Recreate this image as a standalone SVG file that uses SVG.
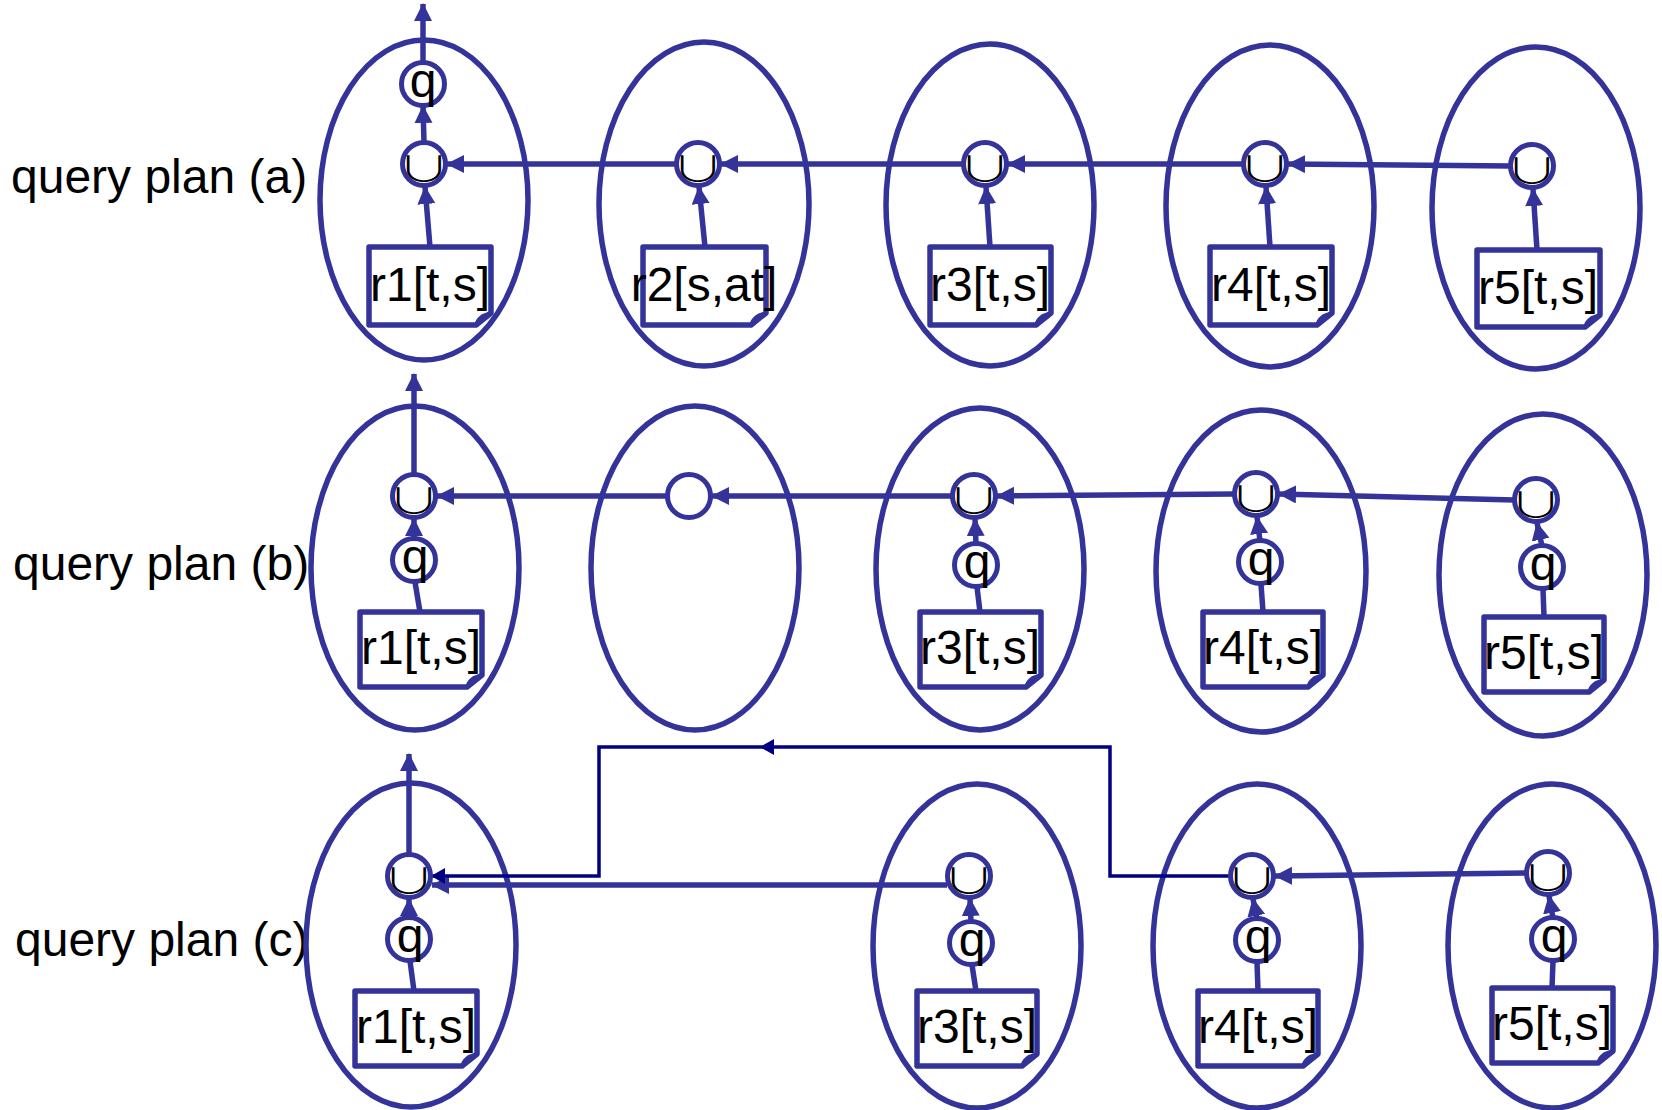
<svg xmlns="http://www.w3.org/2000/svg" width="1662" height="1110" viewBox="0 0 1662 1110">
  <defs>
    <style>
      .ell { fill: none; stroke: #333399; stroke-width: 5.5; }
      .op { fill: #fff; stroke: #333399; stroke-width: 5; }
      .doc { fill: #fff; stroke: #333399; stroke-width: 5.5; stroke-linejoin: round; }
      .curl { fill: none; stroke: #333399; stroke-width: 3; }
      .edge { fill: none; stroke: #333399; stroke-width: 5.5; }
      .plain { fill: none; stroke: #333399; stroke-width: 5.5; }
      .thin { fill: none; stroke: #000080; stroke-width: 3.5; }
      .lbl { font-family: "Liberation Sans", Arial, sans-serif; font-size: 48px; fill: #000; }
      .rel { font-family: "Liberation Sans", Arial, sans-serif; font-size: 48px; fill: #000; text-anchor: middle; }
      .q { font-family: "Liberation Sans", Arial, sans-serif; font-size: 48px; fill: #000; text-anchor: middle; }
      .u { font-family: "Noto Sans CJK JP", "DejaVu Sans", sans-serif; font-size: 44px; font-weight: 300; fill: #000; text-anchor: middle; }
    </style>
    <marker id="arr" markerUnits="userSpaceOnUse" markerWidth="20" markerHeight="20" refX="17" refY="9" orient="auto">
      <path d="M0,0 L18,9 L0,18 Z" fill="#333399"/>
    </marker>
    <marker id="arrThin" markerUnits="userSpaceOnUse" markerWidth="16" markerHeight="18" refX="13" refY="8" orient="auto">
      <path d="M0,0 L14,8 L0,16 Z" fill="#000080"/>
    </marker>
  </defs>
  <rect width="1662" height="1110" fill="#fff"/>

  <!-- row labels -->
  <text class="lbl" x="11" y="193">query plan (a)</text>
  <text class="lbl" x="13" y="580">query plan (b)</text>
  <text class="lbl" x="15" y="956">query plan (c)</text>

  <!-- site ellipses -->
  <g id="sites">
    <ellipse class="ell" cx="424" cy="200" rx="104" ry="160"/>
    <ellipse class="ell" cx="704" cy="204" rx="105" ry="162"/>
    <ellipse class="ell" cx="990" cy="205" rx="104" ry="161"/>
    <ellipse class="ell" cx="1270" cy="206" rx="104" ry="161"/>
    <ellipse class="ell" cx="1536" cy="208" rx="104" ry="161"/>

    <ellipse class="ell" cx="415" cy="568" rx="104" ry="162"/>
    <ellipse class="ell" cx="695" cy="568" rx="104" ry="162"/>
    <ellipse class="ell" cx="980" cy="569" rx="104" ry="161"/>
    <ellipse class="ell" cx="1261" cy="571" rx="105" ry="161"/>
    <ellipse class="ell" cx="1543" cy="575" rx="104" ry="161"/>

    <ellipse class="ell" cx="411" cy="945" rx="105" ry="162"/>
    <ellipse class="ell" cx="977" cy="946" rx="104" ry="162"/>
    <ellipse class="ell" cx="1257" cy="946" rx="104" ry="162"/>
    <ellipse class="ell" cx="1552" cy="946" rx="104" ry="162"/>
  </g>

  <!-- connectors -->
  <g id="connectors">
    <!-- plan (a) -->
    <line class="edge" x1="423" y1="62" x2="423" y2="4" marker-end="url(#arr)"/>
    <line class="edge" x1="424" y1="142" x2="423" y2="106" marker-end="url(#arr)"/>
    <line class="edge" x1="430" y1="247" x2="425" y2="187" marker-end="url(#arr)"/>
    <line class="edge" x1="705" y1="247" x2="699" y2="187" marker-end="url(#arr)"/>
    <line class="edge" x1="990" y1="247" x2="986" y2="187" marker-end="url(#arr)"/>
    <line class="edge" x1="1270" y1="247" x2="1266" y2="187" marker-end="url(#arr)"/>
    <line class="edge" x1="1537" y1="250" x2="1533" y2="189" marker-end="url(#arr)"/>
    <line class="edge" x1="1511" y1="166" x2="1288" y2="164" marker-end="url(#arr)"/>
    <line class="edge" x1="1243" y1="164" x2="1008" y2="164" marker-end="url(#arr)"/>
    <line class="edge" x1="963" y1="164" x2="721" y2="164" marker-end="url(#arr)"/>
    <line class="edge" x1="676" y1="164" x2="447" y2="164" marker-end="url(#arr)"/>

    <!-- plan (b) -->
    <line class="edge" x1="414" y1="474" x2="414" y2="374" marker-end="url(#arr)"/>
    <line class="edge" x1="414" y1="539" x2="414" y2="519" marker-end="url(#arr)"/>
    <line class="edge" x1="976" y1="544" x2="975" y2="519" marker-end="url(#arr)"/>
    <line class="edge" x1="1260" y1="541" x2="1257" y2="517" marker-end="url(#arr)"/>
    <line class="edge" x1="1542" y1="546" x2="1537" y2="523" marker-end="url(#arr)"/>
    <line class="plain" x1="420" y1="612" x2="415" y2="582"/>
    <line class="plain" x1="980" y1="612" x2="977" y2="587"/>
    <line class="plain" x1="1263" y1="612" x2="1261" y2="584"/>
    <line class="plain" x1="1544" y1="617" x2="1543" y2="589"/>
    <line class="edge" x1="1514" y1="500" x2="1279" y2="494" marker-end="url(#arr)"/>
    <line class="edge" x1="1234" y1="494" x2="997" y2="496" marker-end="url(#arr)"/>
    <line class="edge" x1="952" y1="496" x2="712" y2="496" marker-end="url(#arr)"/>
    <line class="edge" x1="667" y1="496" x2="437" y2="496" marker-end="url(#arr)"/>

    <!-- plan (c) -->
    <line class="edge" x1="409" y1="854" x2="409" y2="754" marker-end="url(#arr)"/>
    <line class="edge" x1="409" y1="918" x2="409" y2="899" marker-end="url(#arr)"/>
    <line class="edge" x1="971" y1="922" x2="970" y2="899" marker-end="url(#arr)"/>
    <line class="edge" x1="1257" y1="919" x2="1253" y2="899" marker-end="url(#arr)"/>
    <line class="edge" x1="1553" y1="918" x2="1549" y2="896" marker-end="url(#arr)"/>
    <line class="plain" x1="414" y1="991" x2="410" y2="961"/>
    <line class="plain" x1="976" y1="991" x2="972" y2="965"/>
    <line class="plain" x1="1258" y1="991" x2="1257" y2="962"/>
    <line class="plain" x1="1552" y1="988" x2="1553" y2="961"/>
    <line class="edge" x1="1527" y1="873" x2="1275" y2="876" marker-end="url(#arr)"/>
    <line class="edge" x1="947" y1="885" x2="432" y2="885" marker-end="url(#arr)"/>
    <path class="thin" d="M1231,876 H1110 V747 H761" marker-end="url(#arrThin)"/>
    <path class="thin" d="M761,747 H599 V876 H432" marker-end="url(#arrThin)"/>
  </g>

  <!-- plan (a) nodes -->
  <g id="a-site1">
    <circle class="op" cx="423" cy="84" r="21.5"/>
    <text class="q" x="423" y="97">q</text>
    <circle class="op" cx="424" cy="164" r="21.5"/>
    <text class="u" transform="translate(424,182) scale(1.2,0.8)">∪</text>
    <path class="doc" d="M369,247 H491 V313 L476,325 H369 Z"/>
    <path class="curl" d="M476,325 Q478,315 491,313"/>
    <text class="rel" x="430" y="301">r1[t,s]</text>
  </g>
  <g id="a-site2">
    <circle class="op" cx="698" cy="164" r="21.5"/>
    <text class="u" transform="translate(698,182) scale(1.2,0.8)">∪</text>
    <path class="doc" d="M643,247 H766 V313 L751,325 H643 Z"/>
    <path class="curl" d="M751,325 Q753,315 766,313"/>
    <text class="rel" x="704" y="301">r2[s,at]</text>
  </g>
  <g id="a-site3">
    <circle class="op" cx="985" cy="164" r="21.5"/>
    <text class="u" transform="translate(985,182) scale(1.2,0.8)">∪</text>
    <path class="doc" d="M930,247 H1051 V313 L1036,325 H930 Z"/>
    <path class="curl" d="M1036,325 Q1038,315 1051,313"/>
    <text class="rel" x="990" y="301">r3[t,s]</text>
  </g>
  <g id="a-site4">
    <circle class="op" cx="1265" cy="164" r="21.5"/>
    <text class="u" transform="translate(1265,182) scale(1.2,0.8)">∪</text>
    <path class="doc" d="M1210,247 H1332 V313 L1317,325 H1210 Z"/>
    <path class="curl" d="M1317,325 Q1319,315 1332,313"/>
    <text class="rel" x="1271" y="301">r4[t,s]</text>
  </g>
  <g id="a-site5">
    <circle class="op" cx="1532" cy="166" r="21.5"/>
    <text class="u" transform="translate(1532,184) scale(1.2,0.8)">∪</text>
    <path class="doc" d="M1477,250 H1600 V315 L1585,327 H1477 Z"/>
    <path class="curl" d="M1585,327 Q1587,317 1600,315"/>
    <text class="rel" x="1538" y="304">r5[t,s]</text>
  </g>

  <!-- plan (b) nodes -->
  <g id="b-site1">
    <circle class="op" cx="414" cy="496" r="21.5"/>
    <text class="u" transform="translate(414,514) scale(1.2,0.8)">∪</text>
    <circle class="op" cx="414" cy="560" r="21.5"/>
    <text class="q" x="415" y="573">q</text>
    <path class="doc" d="M360,612 H482 V675 L467,687 H360 Z"/>
    <path class="curl" d="M467,687 Q469,677 482,675"/>
    <text class="rel" x="421" y="664">r1[t,s]</text>
  </g>
  <g id="b-site2">
    <circle class="op" cx="689" cy="496" r="21.5"/>
  </g>
  <g id="b-site3">
    <circle class="op" cx="974" cy="496" r="21.5"/>
    <text class="u" transform="translate(974,514) scale(1.2,0.8)">∪</text>
    <circle class="op" cx="976" cy="565" r="21.5"/>
    <text class="q" x="977" y="578">q</text>
    <path class="doc" d="M920,612 H1041 V675 L1026,687 H920 Z"/>
    <path class="curl" d="M1026,687 Q1028,677 1041,675"/>
    <text class="rel" x="980" y="664">r3[t,s]</text>
  </g>
  <g id="b-site4">
    <circle class="op" cx="1256" cy="494" r="21.5"/>
    <text class="u" transform="translate(1256,512) scale(1.2,0.8)">∪</text>
    <circle class="op" cx="1260" cy="562" r="21.5"/>
    <text class="q" x="1261" y="575">q</text>
    <path class="doc" d="M1203,612 H1323 V675 L1308,687 H1203 Z"/>
    <path class="curl" d="M1308,687 Q1310,677 1323,675"/>
    <text class="rel" x="1263" y="664">r4[t,s]</text>
  </g>
  <g id="b-site5">
    <circle class="op" cx="1536" cy="500" r="21.5"/>
    <text class="u" transform="translate(1536,518) scale(1.2,0.8)">∪</text>
    <circle class="op" cx="1542" cy="567" r="21.5"/>
    <text class="q" x="1543" y="580">q</text>
    <path class="doc" d="M1484,617 H1604 V680 L1589,692 H1484 Z"/>
    <path class="curl" d="M1589,692 Q1591,682 1604,680"/>
    <text class="rel" x="1544" y="669">r5[t,s]</text>
  </g>

  <!-- plan (c) nodes -->
  <g id="c-site1">
    <circle class="op" cx="409" cy="876" r="21.5"/>
    <text class="u" transform="translate(409,894) scale(1.2,0.8)">∪</text>
    <circle class="op" cx="409" cy="939" r="21.5"/>
    <text class="q" x="410" y="952">q</text>
    <path class="doc" d="M355,991 H477 V1054 L462,1066 H355 Z"/>
    <path class="curl" d="M462,1066 Q464,1056 477,1054"/>
    <text class="rel" x="416" y="1043">r1[t,s]</text>
  </g>
  <g id="c-site3">
    <circle class="op" cx="969" cy="876" r="21.5"/>
    <text class="u" transform="translate(969,894) scale(1.2,0.8)">∪</text>
    <circle class="op" cx="971" cy="943" r="21.5"/>
    <text class="q" x="972" y="956">q</text>
    <path class="doc" d="M917,991 H1037 V1054 L1022,1066 H917 Z"/>
    <path class="curl" d="M1022,1066 Q1024,1056 1037,1054"/>
    <text class="rel" x="977" y="1043">r3[t,s]</text>
  </g>
  <g id="c-site4">
    <circle class="op" cx="1252" cy="876" r="21.5"/>
    <text class="u" transform="translate(1252,894) scale(1.2,0.8)">∪</text>
    <circle class="op" cx="1257" cy="940" r="21.5"/>
    <text class="q" x="1258" y="953">q</text>
    <path class="doc" d="M1198,991 H1318 V1054 L1303,1066 H1198 Z"/>
    <path class="curl" d="M1303,1066 Q1305,1056 1318,1054"/>
    <text class="rel" x="1258" y="1043">r4[t,s]</text>
  </g>
  <g id="c-site5">
    <circle class="op" cx="1548" cy="873" r="21.5"/>
    <text class="u" transform="translate(1548,891) scale(1.2,0.8)">∪</text>
    <circle class="op" cx="1553" cy="939" r="21.5"/>
    <text class="q" x="1554" y="952">q</text>
    <path class="doc" d="M1492,988 H1613 V1051 L1598,1063 H1492 Z"/>
    <path class="curl" d="M1598,1063 Q1600,1053 1613,1051"/>
    <text class="rel" x="1552" y="1040">r5[t,s]</text>
  </g>
</svg>
